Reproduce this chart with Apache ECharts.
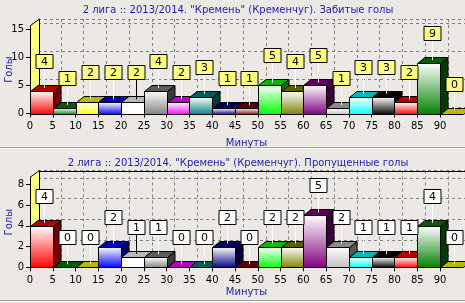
<!DOCTYPE html>
<html><head><meta charset="utf-8">
<script src="https://cdn.jsdelivr.net/npm/echarts@6/dist/echarts.min.js"></script>
<style>html,body{margin:0;padding:0;background:#ece9e4}#c{width:465px;height:303px}</style>
</head><body><div id="c"></div>
<script>
// ---- data ----
const minutes = [0,5,10,15,20,25,30,35,40,45,50,55,60,65,70,75,80,85,90];
const minuteTicks = [0,5,10,15,20,25,30,35,40,45,50,55,60,65,70,75,80,85,90];
const scored   = [4,1,2,2,2,4,2,3,1,1,5,4,5,1,3,3,2,9,0];
const conceded = [4,0,0,2,1,1,0,0,2,0,2,2,5,2,1,1,1,4,0];
const yTicksTop = [0,5,10,15];
const yTicksBottom = [0,2,4,6,8];
const titleTop = '2 лига :: 2013/2014. "Кремень" (Кременчуг). Забитые голы';
const titleBottom = '2 лига :: 2013/2014. "Кремень" (Кременчуг). Пропущенные голы';
const xName = 'Минуты';
const yName = 'Голы';
const palette = ['#ff0000','#008000','#ffff00','#0000ff','#ffffff','#808080','#ff00ff','#008080',
                 '#000080','#800000','#00ff00','#808000','#800080','#c0c0c0','#00ffff','#000000'];

// ---- style / layout ----
const FONT = 'DejaVu Sans';
const BLUE = '#1a1ab8';
const WDX = 8, WDY = -6.5;   // wall depth
const BDX = 7.5, BDY = -6;   // bar depth
const panels = [
  {values: scored, ticks: yTicksTop, ymax: 15.7, top: 25.5, height: 88, title: titleTop, titleTop: 0, box: '#ffff80', topLine: false, xGap: 25},
  {values: conceded, ticks: yTicksBottom, ymax: 8.7, top: 177, height: 90.3, title: titleBottom, titleTop: 153, box: '#ffffff', topLine: true, xGap: 20}
];
const LEFT = 30, WIDTH = 432.8;

function shade(hex, f) {
  const n = parseInt(hex.slice(1), 16);
  const r = Math.round(((n >> 16) & 255) * f), g = Math.round(((n >> 8) & 255) * f), b = Math.round((n & 255) * f);
  return 'rgb(' + r + ',' + g + ',' + b + ')';
}
const px = v => Math.round(v) + 0.5;

const option = {
  backgroundColor: '#ece9e4',
  animation: false,
  title: [], grid: [], xAxis: [], yAxis: [], series: [],
  graphic: [
    {type: 'line', shape: {x1: 0, y1: 147.5, x2: 465, y2: 147.5}, style: {stroke: '#a0a0a0', lineWidth: 1}},
    {type: 'line', shape: {x1: 0, y1: 148.5, x2: 465, y2: 148.5}, style: {stroke: '#ffffff', lineWidth: 1}},
    {type: 'line', shape: {x1: 0, y1: 300.5, x2: 465, y2: 300.5}, style: {stroke: '#a0a0a0', lineWidth: 1}},
    {type: 'line', shape: {x1: 0, y1: 301.5, x2: 465, y2: 301.5}, style: {stroke: '#ffffff', lineWidth: 1}}
  ]
};

panels.forEach((p, k) => {
  const gF = k * 2, gB = k * 2 + 1;
  option.title.push({text: p.title, left: 233, top: p.titleTop, textAlign: 'center',
    textStyle: {fontFamily: FONT, fontSize: 10, fontWeight: 'normal', color: BLUE}});
  option.grid.push({left: LEFT, top: p.top, width: WIDTH, height: p.height, outerBoundsMode: 'none', containLabel: false});
  option.grid.push({left: LEFT + WDX, top: p.top + WDY, width: WIDTH, height: p.height, outerBoundsMode: 'none', containLabel: false});
  const step = p.ticks[1] - p.ticks[0];
  // front axes
  option.xAxis.push({gridIndex: gF, type: 'value', min: 0, max: 95, interval: 5,
    name: xName, nameLocation: 'middle', nameGap: p.xGap, nameMoveOverlap: false,
    nameTextStyle: {fontFamily: FONT, fontSize: 10, color: BLUE},
    axisLine: {lineStyle: {color: '#000', width: 1}},
    axisTick: {length: 4, lineStyle: {color: '#000'}, customValues: minuteTicks},
    axisLabel: {fontFamily: FONT, fontSize: 10, color: '#000', margin: 8, customValues: minuteTicks,
      formatter: v => (v <= 90 ? String(v) : '')},
    splitLine: {show: false}});
  option.yAxis.push({gridIndex: gF, type: 'value', min: 0, max: p.ymax, interval: step,
    name: yName, nameLocation: 'middle', nameGap: 16, nameRotate: 90, nameMoveOverlap: false,
    nameTextStyle: {fontFamily: FONT, fontSize: 10, color: BLUE},
    axisLine: {show: true, lineStyle: {color: '#000', width: 1}},
    axisTick: {show: true, length: 4, lineStyle: {color: '#000'}, customValues: p.ticks},
    axisLabel: {fontFamily: FONT, fontSize: 10, color: '#000', margin: 6, customValues: p.ticks,
      formatter: v => (p.ticks.indexOf(v) >= 0 ? String(v) : '')},
    splitLine: {show: false}});
  // back wall axes (grid only)
  option.xAxis.push({gridIndex: gB, type: 'value', min: 0, max: 95, interval: 5,
    axisLine: {show: false}, axisTick: {show: false}, axisLabel: {show: false},
    splitLine: {show: true, lineStyle: {color: '#808080', type: [3, 3], width: 1}}});
  option.yAxis.push({gridIndex: gB, type: 'value', min: 0, max: p.ymax, interval: step,
    axisLine: {show: false}, axisTick: {show: false}, axisLabel: {show: false},
    splitLine: {show: true, lineStyle: {color: '#808080', type: [3, 3], width: 1}}});

  // walls
  option.series.push({type: 'custom', xAxisIndex: gF, yAxisIndex: gF, z: 2, clip: false, silent: true,
    data: [[0, 0]],
    renderItem: (params, api) => {
      const f0 = api.coord([0, 0]), f1 = api.coord([0, p.ymax]);
      const x0 = px(f0[0]), yb = f0[1], yt = f1[1];
      const ch = [{type: 'polygon', shape: {points: [[x0, yb], [x0, yt], [px(x0 + WDX), yt + WDY], [px(x0 + WDX), yb + WDY]]},
        style: {fill: '#ffff80', stroke: '#000', lineWidth: 1}}];
      if (p.topLine) ch.push({type: 'line', shape: {x1: px(x0 + WDX), y1: px(yt + WDY), x2: 465, y2: px(yt + WDY)},
        style: {stroke: '#000', lineWidth: 1}});
      return {type: 'group', children: ch};
    }});

  // bars
  option.series.push({type: 'custom', xAxisIndex: gF, yAxisIndex: gF, z: 3, clip: false, silent: true,
    encode: {x: 0, y: 1},
    data: minutes.map((m, i) => [m, p.values[i]]),
    renderItem: (params, api) => {
      const x0 = api.value(0), v = api.value(1);
      const col = palette[params.dataIndex % palette.length];
      const a = api.coord([x0, v]), b = api.coord([x0 + 5, 0]);
      const L = px(a[0]), R = px(b[0]), T = px(a[1]), B = px(b[1]);
      const ch = [];
      if (v > 0) {
        ch.push({type: 'polygon', shape: {points: [[R, T], [R + BDX, T + BDY], [R + BDX, B + BDY], [R, B]]},
          style: {fill: shade(col, 0.45), stroke: '#000', lineWidth: 1}});
        ch.push({type: 'rect', shape: {x: L, y: T, width: R - L, height: B - T},
          style: {fill: {type: 'linear', x: 0, y: 0, x2: 0, y2: 1,
            colorStops: [{offset: 0, color: '#ffffff'}, {offset: 1, color: col}]}, stroke: '#000', lineWidth: 1}});
      }
      ch.push({type: 'polygon', shape: {points: [[L, T], [R, T], [R + BDX, T + BDY], [L + BDX, T + BDY]]},
        style: {fill: shade(col, 0.72), stroke: '#000', lineWidth: 1}});
      return {type: 'group', children: ch};
    }});

  // marks
  option.series.push({type: 'custom', xAxisIndex: gF, yAxisIndex: gF, z: 4, clip: false, silent: true,
    encode: {x: 0, y: 1},
    data: minutes.map((m, i) => [m, p.values[i]]),
    renderItem: (params, api) => {
      const x0 = api.value(0), v = api.value(1);
      const col = palette[params.dataIndex % palette.length];
      const a = api.coord([x0, v]), b = api.coord([x0 + 5, 0]);
      const cx = px((a[0] + b[0]) / 2 + 3);
      const topMid = a[1] + BDY / 2;
      const bb = Math.round(topMid - 20) + 0.5;
      const bw = 17, bh = 14;
      return {type: 'group', children: [
        {type: 'line', shape: {x1: cx, y1: bb, x2: cx, y2: topMid}, style: {stroke: col === '#ffffff' ? '#000' : '#fff', lineWidth: 1}},
        {type: 'rect', shape: {x: cx - bw / 2, y: bb - bh, width: bw, height: bh}, style: {fill: p.box, stroke: '#000', lineWidth: 1}},
        {type: 'text', style: {x: cx, y: bb - bh / 2 + 0.5, text: String(v), align: 'center', verticalAlign: 'middle',
          fontFamily: FONT, fontSize: 11, fill: '#000'}}
      ]};
    }});
});

const chart = echarts.init(document.getElementById('c'), null, {renderer: 'canvas'});
chart.setOption(option);
</script>
</body></html>
